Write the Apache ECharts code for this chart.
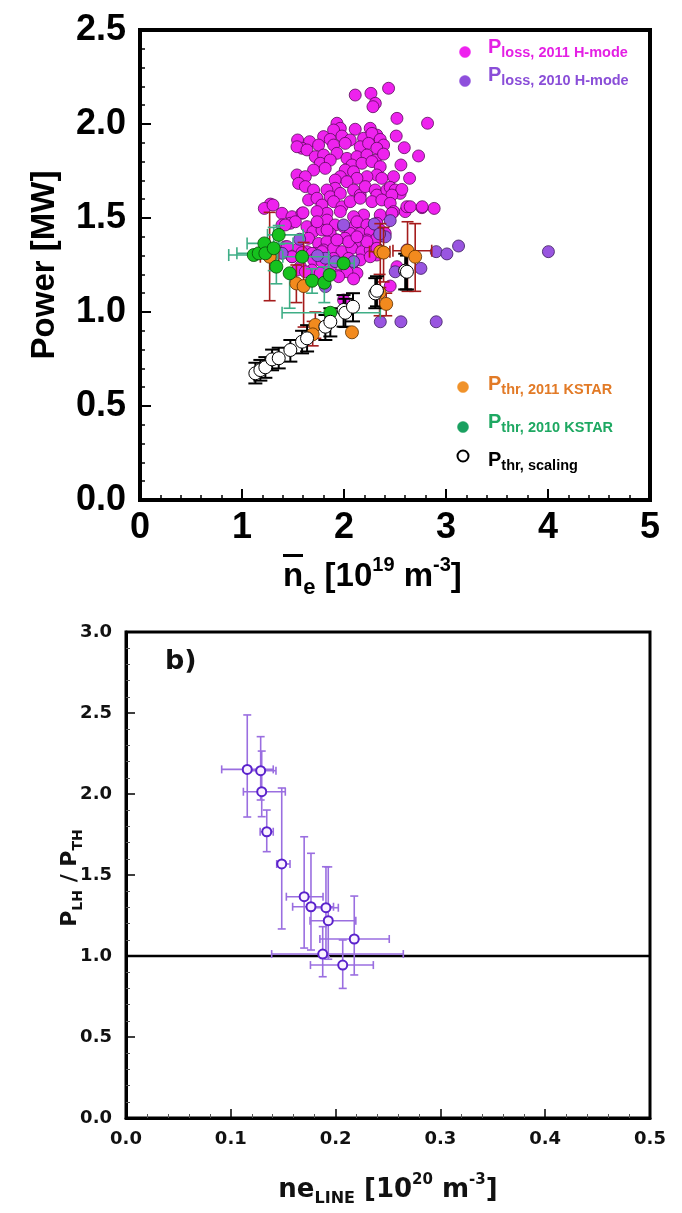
<!DOCTYPE html>
<html><head><meta charset="utf-8">
<script src="https://cdn.jsdelivr.net/npm/echarts@6/dist/echarts.min.js"></script>
<style>html,body{margin:0;padding:0;background:#fff}#c{width:682px;height:1213px}</style>
</head><body><div id="c"></div>
<script>
// ---------- DATA (top panel) ----------
const xTicksTop = [0, 1, 2, 3, 4, 5];
const yTicksTop = [0.0, 0.5, 1.0, 1.5, 2.0, 2.5];
// P_loss 2011 H-mode  [ne, P]
const pLoss2011 = [
[2.110,2.154],[2.264,2.163],[2.437,2.190],[2.307,2.110],[2.284,2.092],[2.519,2.030],[2.819,2.004],
[2.512,1.936],[2.591,1.874],[2.731,1.830],[2.558,1.782],[2.643,1.711],[2.486,1.720],[2.764,1.555],[2.884,1.551],
[1.931,2.004],[1.964,1.977],[2.110,1.972],[2.257,1.977],[2.322,1.941],[1.898,1.968],
[1.545,1.915],[1.663,1.906],[1.800,1.933],[1.865,1.918],[1.980,1.936],[2.061,1.915],[2.192,1.924],[2.274,1.950],
[2.355,1.918],[2.388,1.888],[1.588,1.871],[1.539,1.879],[1.637,1.862],[1.751,1.888],[1.898,1.888],[2.012,1.897],
[2.159,1.879],[2.241,1.897],[2.322,1.871],
[1.718,1.826],[1.800,1.835],[1.931,1.844],[2.029,1.817],[2.127,1.826],[2.225,1.835],[2.306,1.808],[2.388,1.840],
[1.767,1.791],[1.865,1.808],[2.078,1.782],[2.176,1.791],[2.274,1.800],[2.355,1.773],
[1.702,1.755],[1.816,1.764],[2.012,1.755],[2.094,1.746],[2.322,1.729],[2.371,1.711],[1.539,1.729],[1.621,1.720],
[1.964,1.720],[2.225,1.720],[2.127,1.711],
[1.555,1.684],[1.621,1.667],[1.702,1.649],[1.914,1.702],[2.029,1.693],[1.914,1.658],[1.833,1.649],[1.865,1.613],
[1.964,1.631],[2.094,1.649],[2.159,1.622],[2.208,1.667],[2.306,1.649],[2.322,1.622],[2.420,1.649],[2.453,1.663],
[2.502,1.649],[2.551,1.631],[2.567,1.652],[2.469,1.622],
[1.653,1.596],[1.735,1.605],[1.784,1.569],[1.898,1.587],[1.980,1.560],[2.061,1.587],[2.159,1.605],[2.274,1.587],
[2.371,1.596],[2.453,1.578],[2.486,1.534],[2.600,1.534],[2.616,1.560],[2.355,1.516],[1.278,1.574],[1.219,1.551],
[1.392,1.525],[1.490,1.507],[1.588,1.525],[2.192,1.516],[2.094,1.507],[1.833,1.525],[1.964,1.534],[1.735,1.534],
[1.304,1.569],[1.598,1.528],[2.649,1.560],[2.767,1.560],
[1.392,1.463],[1.474,1.472],[1.523,1.480],[1.637,1.454],[1.735,1.472],[1.833,1.489],[1.914,1.463],[1.996,1.454],
[2.078,1.445],[2.127,1.480],[2.225,1.463],[2.322,1.472],[1.696,1.427],[1.784,1.436],[1.865,1.418],[2.061,1.418],
[2.159,1.418],[2.257,1.427],[2.355,1.436],[2.404,1.418],[1.425,1.463],[1.736,1.480],[2.470,1.525],
[1.653,1.392],[1.751,1.365],[1.833,1.374],[1.931,1.383],[2.012,1.392],[2.110,1.365],[2.225,1.383],[2.322,1.392],
[1.555,1.339],[1.425,1.347],[1.637,1.321],[1.718,1.312],[1.800,1.330],[1.898,1.339],[1.980,1.321],[2.078,1.339],
[2.176,1.321],[2.257,1.330],[2.322,1.303],[1.442,1.348],[1.490,1.294],[1.589,1.316],[1.687,1.312],[1.785,1.321],
[1.490,1.294],[1.702,1.277],[1.784,1.268],[1.898,1.285],[2.045,1.285],[2.159,1.277],[2.257,1.294],[1.572,1.241],
[1.686,1.223],[1.865,1.232],[1.947,1.197],[2.078,1.232],[2.127,1.206],[1.767,1.206],[1.540,1.223],[1.621,1.214],
[2.029,1.214],[2.094,1.176],[1.947,1.188],[1.996,1.064],[2.453,1.138],[2.617,1.330],[2.519,1.241],[2.323,1.339],
[2.225,1.374],[2.045,1.374],[1.931,1.383],[2.127,1.400],[1.834,1.436]
];
// P_loss 2010 H-mode
const pLoss2010 = [
[2.297,1.468],[2.453,1.486],[1.565,1.387],[2.502,1.214],[2.610,1.214],[2.754,1.232],[2.904,1.321],[3.009,1.309],
[3.123,1.351],[4.004,1.321],[2.356,0.948],[2.558,0.948],[2.904,0.948],[1.817,1.135],[2.404,1.400],[2.349,1.415],
[1.393,1.312],[1.817,1.286],[1.915,1.268],[2.094,1.268],[1.996,1.463],[1.740,1.300]
];
// P_thr 2011 KSTAR  [ne, P, neLo, neHi, PLo, PHi]
const pThr2011 = [
[1.271,1.294,1.180,1.360,1.060,1.530],
[1.533,1.152,1.533,1.533,1.050,1.250],
[1.604,1.138,1.604,1.604,0.920,1.370],
[1.719,0.931,1.719,1.719,0.860,1.000],
[1.693,0.881,1.693,1.693,0.820,0.950],
[2.078,0.892,2.078,2.078,0.892,0.892],
[2.356,1.321,2.250,2.450,1.130,1.470],
[2.388,1.316,2.388,2.388,1.160,1.450],
[2.623,1.326,2.480,2.860,1.110,1.480],
[2.698,1.294,2.698,2.698,1.110,1.470],
[2.349,1.103,2.349,2.349,0.980,1.200],
[2.414,1.043,2.414,2.414,0.980,1.100]
];
// P_thr 2010 KSTAR
const pThr2010 = [
[1.115,1.303,0.870,1.340,1.303,1.303],
[1.164,1.312,0.950,1.350,1.312,1.312],
[1.219,1.365,1.050,1.500,1.365,1.365],
[1.229,1.312,1.229,1.229,1.312,1.312],
[1.311,1.339,1.311,1.311,1.220,1.450],
[1.360,1.410,1.250,1.600,1.360,1.460],
[1.337,1.241,1.337,1.337,1.150,1.330],
[1.467,1.206,1.467,1.467,1.020,1.220],
[1.589,1.294,1.400,1.850,1.294,1.294],
[1.687,1.166,1.500,1.850,1.100,1.230],
[1.807,1.156,1.807,1.807,1.050,1.240],
[1.859,1.197,1.859,1.859,1.197,1.197],
[1.996,1.259,1.850,2.100,1.259,1.259],
[1.866,0.996,1.393,2.356,0.996,0.996]
];
// P_thr scaling
const pThrScaling = [
[1.131,0.674,1.131,1.131,0.620,0.730],
[1.180,0.691,1.180,1.180,0.635,0.745],
[1.229,0.706,1.229,1.229,0.650,0.760],
[1.295,0.748,1.295,1.295,0.690,0.800],
[1.360,0.754,1.360,1.360,0.700,0.810],
[1.474,0.798,1.474,1.474,0.736,0.851],
[1.589,0.842,1.589,1.589,0.780,0.900],
[1.638,0.860,1.638,1.638,0.790,0.930],
[1.817,0.922,1.817,1.817,0.851,0.984],
[1.866,0.948,1.866,1.866,0.870,1.020],
[1.996,1.011,1.996,1.996,0.922,1.090],
[2.013,0.996,2.013,2.013,0.920,1.070],
[2.088,1.028,2.088,2.088,0.950,1.100],
[2.307,1.099,2.307,2.307,1.020,1.180],
[2.323,1.113,2.323,2.323,1.030,1.190],
[2.600,1.220,2.600,2.600,1.120,1.310],
[2.617,1.214,2.617,2.617,1.120,1.300]
];
// ---------- DATA (bottom panel) ----------
const xTicksBottom = [0.0, 0.1, 0.2, 0.3, 0.4, 0.5];
const yTicksBottom = [0.0, 0.5, 1.0, 1.5, 2.0, 2.5, 3.0];
// P_LH/P_TH vs ne_LINE  [ne, ratio, neLo, neHi, rLo, rHi]
const ratioLH = [
[0.1157,2.152,0.0913,0.1405,1.858,2.488],
[0.1285,2.144,0.1151,0.1431,1.963,2.354],
[0.1295,2.014,0.1120,0.1520,1.860,2.265],
[0.1343,1.767,0.1280,0.1405,1.644,1.901],
[0.1486,1.568,0.1438,0.1565,1.167,2.037],
[0.1700,1.366,0.1530,0.1880,1.049,1.736],
[0.1765,1.304,0.1590,0.1980,1.037,1.634],
[0.1908,1.298,0.1756,0.2026,0.996,1.551],
[0.1930,1.218,0.1756,0.2193,0.980,1.550],
[0.2178,1.105,0.1850,0.2512,0.883,1.370],
[0.1877,1.012,0.1390,0.2646,0.872,1.181],
[0.2068,0.944,0.1760,0.2360,0.800,1.099]
];
const unityLine = [[0, 1], [0.5, 1]];

// ---------- RENDER ----------
function errBars(color, cap, lw) {
  return function (params, api) {
    const x = api.value(0), y = api.value(1);
    const xl = api.value(2), xh = api.value(3), yl = api.value(4), yh = api.value(5);
    const ch = [];
    const st = { stroke: color, lineWidth: lw };
    if (yl !== yh) {
      const a = api.coord([x, yl]), b = api.coord([x, yh]);
      ch.push({ type: 'line', shape: { x1: a[0], y1: a[1], x2: b[0], y2: b[1] }, style: st });
      ch.push({ type: 'line', shape: { x1: a[0] - cap, y1: a[1], x2: a[0] + cap, y2: a[1] }, style: st });
      ch.push({ type: 'line', shape: { x1: b[0] - cap, y1: b[1], x2: b[0] + cap, y2: b[1] }, style: st });
    }
    if (xl !== xh) {
      const a = api.coord([xl, y]), b = api.coord([xh, y]);
      ch.push({ type: 'line', shape: { x1: a[0], y1: a[1], x2: b[0], y2: b[1] }, style: st });
      ch.push({ type: 'line', shape: { x1: a[0], y1: a[1] - cap, x2: a[0], y2: a[1] + cap }, style: st });
      ch.push({ type: 'line', shape: { x1: b[0], y1: b[1] - cap, x2: b[0], y2: b[1] + cap }, style: st });
    }
    return { type: 'group', children: ch };
  };
}
const FB = 'Liberation Sans, Arial, sans-serif';
const FD = 'DejaVu Sans, sans-serif';
function topAxisBase(min, max, interval, minorSplit) {
  return {
    type: 'value', min: min, max: max, interval: interval,
    axisLine: { show: true, onZero: false, lineStyle: { color: '#000', width: 4 } },
    axisTick: { show: true, inside: true, length: 11, lineStyle: { color: '#000', width: 2 } },
    minorTick: { show: true, inside: true, splitNumber: minorSplit, length: 5, lineStyle: { color: '#000', width: 1.5 } },
    splitLine: { show: false }
  };
}
const chart = echarts.init(document.getElementById('c'), null, { renderer: 'canvas' });
const legendItem = (cx, cy, fill, stroke, txtColor, sub, textY) => ([
  { type: 'circle', shape: { cx: cx, cy: cy, r: 5.5 }, style: { fill: fill, stroke: stroke, lineWidth: stroke === '#000' ? 2 : 0.5 }, z: 100 },
  { type: 'text', left: 488, top: textY, z: 100, style: { text: '{p|P}{s|' + sub + '}', fill: txtColor,
    rich: { p: { fontFamily: FB, fontWeight: 'bold', fontSize: 20, lineHeight: 26, fill: txtColor },
            s: { fontFamily: FB, fontWeight: 'bold', fontSize: 14.5, lineHeight: 14, verticalAlign: 'bottom', fill: txtColor } } } }
]);
const option = {
  animation: false,
  backgroundColor: '#fff',
  grid: [
    { left: 140, top: 30, width: 510, height: 470, show: true, borderColor: '#000', borderWidth: 4, backgroundColor: 'transparent' },
    { left: 126, top: 632, width: 524, height: 486, show: true, borderColor: '#000', borderWidth: 3, backgroundColor: 'transparent' }
  ],
  xAxis: [
    Object.assign(topAxisBase(xTicksTop[0], xTicksTop[xTicksTop.length - 1], 1, 5), { gridIndex: 0,
      axisLabel: { fontFamily: FB, fontWeight: 'bold', fontSize: 36, color: '#000', margin: 10 } }),
    Object.assign(topAxisBase(xTicksBottom[0], xTicksBottom[xTicksBottom.length - 1], 0.1, 5), { gridIndex: 1,
      axisLine: { show: true, onZero: false, lineStyle: { color: '#000', width: 3 } },
      axisTick: { show: true, inside: true, length: 9, lineStyle: { color: '#000', width: 1.5 } },
      minorTick: { show: true, splitNumber: 5, length: 4, lineStyle: { color: '#555', width: 1 } },
      axisLabel: { fontFamily: FD, fontWeight: 'bold', fontSize: 18, color: '#111', margin: 12, formatter: v => v.toFixed(1) } })
  ],
  yAxis: [
    Object.assign(topAxisBase(yTicksTop[0], yTicksTop[yTicksTop.length - 1], 0.5, 5), { gridIndex: 0,
      axisLabel: { fontFamily: FB, fontWeight: 'bold', fontSize: 36, color: '#000', margin: 14, formatter: v => v.toFixed(1) } }),
    Object.assign(topAxisBase(yTicksBottom[0], yTicksBottom[yTicksBottom.length - 1], 0.5, 5), { gridIndex: 1,
      axisLine: { show: true, onZero: false, lineStyle: { color: '#000', width: 3 } },
      axisTick: { show: true, inside: true, length: 9, lineStyle: { color: '#000', width: 1.5 } },
      minorTick: { show: true, splitNumber: 5, length: 4, lineStyle: { color: '#555', width: 1 } },
      axisLabel: { fontFamily: FD, fontWeight: 'bold', fontSize: 18, color: '#111', margin: 14, formatter: v => v.toFixed(1) } })
  ],
  series: [
    { type: 'scatter', name: 'Ploss 2011', xAxisIndex: 0, yAxisIndex: 0, data: pLoss2011, symbolSize: 12,
      itemStyle: { color: '#ee22ee', borderColor: '#5a0a5a', borderWidth: 0.8, opacity: 1 }, z: 2 },
    { type: 'scatter', name: 'Ploss 2010', xAxisIndex: 0, yAxisIndex: 0, data: pLoss2010, symbolSize: 12,
      itemStyle: { color: '#9955e0', borderColor: '#3a1a5a', borderWidth: 0.8, opacity: 1 }, z: 3 },
    { type: 'custom', xAxisIndex: 0, yAxisIndex: 0, data: pThr2011, renderItem: errBars('#a51c1c', 6, 1.6),
      encode: { x: [0, 2, 3], y: [1, 4, 5] }, z: 4 },
    { type: 'custom', xAxisIndex: 0, yAxisIndex: 0, data: pThr2010, renderItem: errBars('#3fae86', 6, 1.6),
      encode: { x: [0, 2, 3], y: [1, 4, 5] }, z: 4 },
    { type: 'custom', xAxisIndex: 0, yAxisIndex: 0, data: pThrScaling, renderItem: errBars('#000', 7, 2),
      encode: { x: [0, 2, 3], y: [1, 4, 5] }, z: 4 },
    { type: 'scatter', name: 'Pthr 2011', xAxisIndex: 0, yAxisIndex: 0, data: pThr2011, symbolSize: 13,
      encode: { x: 0, y: 1 }, itemStyle: { color: '#f28a1e', borderColor: '#5a3000', borderWidth: 0.8, opacity: 1 }, z: 5 },
    { type: 'scatter', name: 'Pthr 2010', xAxisIndex: 0, yAxisIndex: 0, data: pThr2010, symbolSize: 13,
      encode: { x: 0, y: 1 }, itemStyle: { color: '#16c21e', borderColor: '#0a4a0a', borderWidth: 0.8, opacity: 1 }, z: 6 },
    { type: 'scatter', name: 'Pthr scaling', xAxisIndex: 0, yAxisIndex: 0, data: pThrScaling, symbolSize: 13,
      encode: { x: 0, y: 1 }, itemStyle: { color: '#fff', borderColor: '#000', borderWidth: 1, opacity: 1 }, z: 6 },
    // bottom panel
    { type: 'line', xAxisIndex: 1, yAxisIndex: 1, data: unityLine, symbol: 'none',
      lineStyle: { color: '#000', width: 2.5 }, z: 2 },
    { type: 'custom', xAxisIndex: 1, yAxisIndex: 1, data: ratioLH, renderItem: errBars('#9a6ee0', 4, 1.6),
      encode: { x: [0, 2, 3], y: [1, 4, 5] }, z: 3 },
    { type: 'scatter', xAxisIndex: 1, yAxisIndex: 1, data: ratioLH, encode: { x: 0, y: 1 }, symbolSize: 9,
      itemStyle: { color: '#fbf2ff', borderColor: '#5a22cc', borderWidth: 2, opacity: 1 }, z: 4 }
  ],
  graphic: [
    // top y title
    { type: 'text', x: 45, y: 265, rotation: Math.PI / 2, z: 100,
      style: { text: 'Power [MW]', fontFamily: FB, fontWeight: 'bold', fontSize: 33, fill: '#000', align: 'center', verticalAlign: 'middle' } },
    // top x title
    { type: 'text', left: 283, top: 555, z: 100,
      style: { text: '{m|n}{s|e}{m| [10}{u|19}{m| m}{u|-3}{m|]}', fill: '#000',
        rich: { m: { fontFamily: FB, fontWeight: 'bold', fontSize: 33, lineHeight: 44 },
                s: { fontFamily: FB, fontWeight: 'bold', fontSize: 22, lineHeight: 22, verticalAlign: 'bottom' },
                u: { fontFamily: FB, fontWeight: 'bold', fontSize: 20, lineHeight: 22, verticalAlign: 'top' } } } },
    { type: 'rect', shape: { x: 283, y: 554, width: 20, height: 3 }, style: { fill: '#000' }, z: 100 },
    // legend (top panel)
    ...legendItem(465, 52, '#ee22ee', '#ee22ee', '#e41fe4', 'loss, 2011 H-mode', 37),
    ...legendItem(465, 81, '#8e4fdc', '#8e4fdc', '#8a4ed8', 'loss, 2010 H-mode', 65),
    ...legendItem(463, 387, '#f0922a', '#f0922a', '#e27a26', 'thr, 2011 KSTAR', 374),
    ...legendItem(463, 427, '#1aa060', '#1aa060', '#1ea862', 'thr, 2010 KSTAR', 412),
    ...legendItem(463, 456, '#fff', '#000', '#000', 'thr, scaling', 450),
    // bottom panel texts
    { type: 'text', left: 165, top: 648, z: 100,
      style: { text: 'b)', fontFamily: FD, fontWeight: 'bold', fontSize: 27, fill: '#111' } },
    { type: 'text', x: 70, y: 878, rotation: Math.PI / 2, z: 100,
      style: { text: '{m|P}{s|LH}{m| / P}{s|TH}', align: 'center', verticalAlign: 'middle', fill: '#111',
        rich: { m: { fontFamily: FD, fontWeight: 'bold', fontSize: 22, lineHeight: 30 },
                s: { fontFamily: FD, fontWeight: 'bold', fontSize: 14, lineHeight: 16, verticalAlign: 'bottom' } } } },
    { type: 'text', x: 388, y: 1190, z: 100,
      style: { text: '{m|ne}{s|LINE}{m| [10}{u|20}{m| m}{u|-3}{m|]}', align: 'center', verticalAlign: 'middle', fill: '#111',
        rich: { m: { fontFamily: FD, fontWeight: 'bold', fontSize: 26, lineHeight: 34 },
                s: { fontFamily: FD, fontWeight: 'bold', fontSize: 16, lineHeight: 16, verticalAlign: 'bottom' },
                u: { fontFamily: FD, fontWeight: 'bold', fontSize: 15, lineHeight: 16, verticalAlign: 'top' } } } }
  ]
};
chart.setOption(option);
</script></body></html>
